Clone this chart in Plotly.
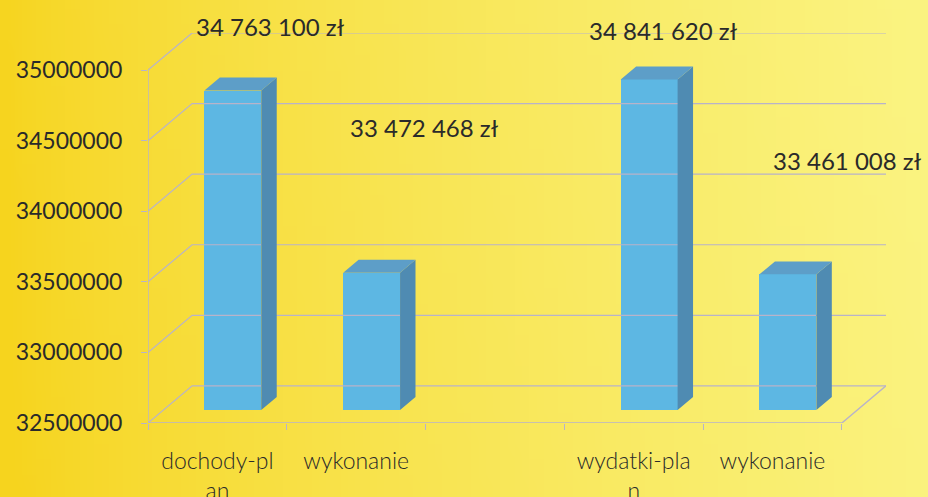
import base64, struct, zlib
import plotly.graph_objects as go

# ---------------- data ----------------
categories = ["dochody-plan", "wykonanie", "", "wydatki-plan", "wykonanie"]
tick_labels = ["dochody-pl<br>an", "wykonanie", "", "wydatki-pla<br>n", "wykonanie"]
values = [34763100, 33472468, None, 34841620, 33461008]
y_ticks = [32500000, 33000000, 33500000, 34000000, 34500000, 35000000]

# ---------------- geometry / style ----------------
W, H = 928, 497
ML, MR, MT, MB = 148, 42, 33, 74
YMIN, YMAX = 32500000, 35000000
NS = len(categories)
DX = 0.318            # depth offset in slot units
DY = 262800           # depth offset in value units
D0, D1 = 0.35, 0.70   # bar depth extent (fraction of depth)
BW = 0.41             # bar width in slot units

GRID = "#b8b3c9"
FRONT = "#5db7e3"
SIDE = "#4f8bb2"
TOP = "#5d9ec8"
TXT = "#2a2a2a"
FONT = "Lato"

# label offsets (pixels) relative to bar's front-top centre
label_dx = [38, 53, 0, 14, 60]
label_dy = [64, 145, 0, 49, 114]


def gradient_png(w=64, h=32):
    left = (246, 212, 30)
    right = (250, 243, 128)
    rows = []
    for j in range(h):
        fy = j / (h - 1)
        row = bytearray([0])
        for i in range(w):
            fx = i / (w - 1)
            t = min(1.0, max(0.0, fx ** 0.75 - 0.05 * fy + 0.02))
            c = [int(round(left[k] + (right[k] - left[k]) * t)) for k in range(3)]
            row += bytes(c)
        rows.append(bytes(row))
    raw = b"".join(rows)

    def chunk(tag, data):
        return struct.pack(">I", len(data)) + tag + data + struct.pack(">I", zlib.crc32(tag + data) & 0xffffffff)

    png = b"\x89PNG\r\n\x1a\n" + chunk(b"IHDR", struct.pack(">IIBBBBB", w, h, 8, 2, 0, 0, 0))
    png += chunk(b"IDAT", zlib.compress(raw, 9)) + chunk(b"IEND", b"")
    return "data:image/png;base64," + base64.b64encode(png).decode()


fig = go.Figure()

# ---- walls / grid (from tick values) ----
gx, gy = [], []
for t in y_ticks:
    gx += [0, DX, NS + DX, None]
    gy += [t, t + DY, t + DY, None]
fig.add_trace(go.Scatter(x=gx, y=gy, mode="lines", line=dict(color=GRID, width=1.2),
                         hoverinfo="skip", showlegend=False))
# front axes
fig.add_trace(go.Scatter(x=[0, 0, None, 0, NS, NS + DX], y=[YMAX, YMIN, None, YMIN, YMIN, YMIN + DY],
                         mode="lines", line=dict(color=GRID, width=1.4),
                         hoverinfo="skip", showlegend=False))

# ---- bars ----
centers = [i + 0.5 for i in range(NS)]
bx, bh, bb = [], [], []
for c, v in zip(centers, values):
    if v is None:
        continue
    bx.append(c + D0 * DX)
    bh.append(v - YMIN)
    bb.append(YMIN + D0 * DY)
fig.add_trace(go.Bar(x=bx, y=bh, base=bb, width=BW, marker=dict(color=FRONT, line=dict(width=0)),
                     hoverinfo="skip", showlegend=False))

ddx = (D1 - D0) * DX
ddy = (D1 - D0) * DY
for c, v in zip(centers, values):
    if v is None:
        continue
    xl = c + D0 * DX - BW / 2
    xr = c + D0 * DX + BW / 2
    yb = YMIN + D0 * DY
    yt = v + D0 * DY
    # side face
    fig.add_trace(go.Scatter(x=[xr, xr + ddx, xr + ddx, xr, xr], y=[yb, yb + ddy, yt + ddy, yt, yb],
                             fill="toself", fillcolor=SIDE, mode="lines", line=dict(width=0, color=SIDE),
                             hoverinfo="skip", showlegend=False))
    # top face
    fig.add_trace(go.Scatter(x=[xl, xr, xr + ddx, xl + ddx, xl], y=[yt, yt, yt + ddy, yt + ddy, yt],
                             fill="toself", fillcolor=TOP, mode="lines", line=dict(width=0, color=TOP),
                             hoverinfo="skip", showlegend=False))

# ---- value labels ----
for c, v, dx, dy in zip(centers, values, label_dx, label_dy):
    if v is None:
        continue
    txt = f"{v:,}".replace(",", " ") + " zł"
    fig.add_annotation(x=c + D0 * DX, y=v + D0 * DY, text=txt, showarrow=False,
                       xanchor="center", yanchor="middle", xshift=dx, yshift=dy,
                       font=dict(family=FONT, size=24, color=TXT))

fig.update_layout(
    width=W, height=H,
    margin=dict(l=ML, r=MR, t=MT, b=MB, autoexpand=False),
    paper_bgcolor="#f8e64c",
    plot_bgcolor="rgba(0,0,0,0)",
    bargap=0, barmode="overlay",
    showlegend=False,
    images=[dict(source=gradient_png(), xref="paper", yref="paper",
                 x=-ML / (W - ML - MR), y=1 + MT / (H - MT - MB),
                 sizex=W / (W - ML - MR), sizey=H / (H - MT - MB),
                 xanchor="left", yanchor="top", sizing="stretch", layer="below")],
    xaxis=dict(range=[0, NS + DX], tickvals=centers, ticktext=tick_labels, automargin=False,
               showgrid=False, zeroline=False, showline=False, ticks="", ticklabelstandoff=22,
               tickfont=dict(family=FONT, size=23, color=TXT, weight=300),
               minor=dict(tickvals=list(range(NS + 1)), ticks="outside", ticklen=6,
                          tickcolor=GRID, tickwidth=1.4, showgrid=False)),
    yaxis=dict(range=[YMIN, YMAX + DY], tickvals=y_ticks, ticktext=[str(t) for t in y_ticks],
               automargin=False,
               showgrid=False, zeroline=False, showline=False, ticks="outside", ticklen=6,
               tickcolor=GRID, tickwidth=1.4, ticklabelstandoff=14,
               tickfont=dict(family=FONT, size=23, color=TXT)),
)

fig.write_html("out.html", config={"displayModeBar": False},
               post_script="document.body.style.margin='0';")
